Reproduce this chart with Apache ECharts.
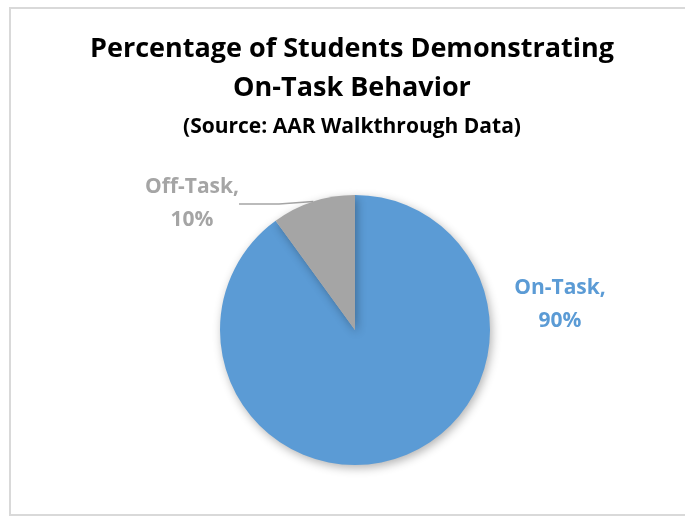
<!DOCTYPE html>
<html>
<head>
<meta charset="utf-8">
<script src="https://cdn.jsdelivr.net/npm/echarts@6/dist/echarts.min.js"></script>
<style>
html,body{margin:0;padding:0;background:#fff;}
#chart{width:685px;height:518px;}
</style>
</head>
<body>
<div id="chart"></div>
<script>
const titleLines = ['Percentage of Students Demonstrating', 'On-Task Behavior'];
const subtitle = '(Source: AAR Walkthrough Data)';
const categories = ['On-Task', 'Off-Task'];
const values = [90, 10];

const sliceColors = ['#5B9BD5', '#A5A5A5'];
const labelPos = [
  {x: 560, y: 305},
  {x: 192, y: 204}
];

const chart = echarts.init(document.getElementById('chart'), null, {renderer: 'canvas'});
const fontFam = '"Open Sans", "Liberation Sans", sans-serif';

chart.setOption({
  animation: false,
  backgroundColor: '#ffffff',
  graphic: [{
    type: 'rect',
    shape: {x: 10, y: 8, width: 720, height: 507},
    style: {fill: 'none', stroke: '#d9d9d9', lineWidth: 2},
    z: -1
  }],
  title: {
    text: titleLines.join('\n'),
    subtext: subtitle,
    left: 352,
    textAlign: 'center',
    top: 30,
    padding: 0,
    itemGap: 6,
    textStyle: {
      fontFamily: fontFam, fontWeight: 'bold', fontSize: 27, lineHeight: 39, color: '#000000'
    },
    subtextStyle: {
      fontFamily: fontFam, fontWeight: 'bold', fontSize: 21, lineHeight: 26, color: '#000000'
    }
  },
  series: [{
    type: 'pie',
    center: [355, 330],
    radius: [0, 135],
    startAngle: 90,
    clockwise: true,
    data: categories.map((c, i) => ({
      name: c,
      value: values[i],
      itemStyle: {color: sliceColors[i]},
      label: {color: sliceColors[i]},
      labelLine: {show: i === 1}
    })),
    itemStyle: {
      borderWidth: 0,
      shadowBlur: 10,
      shadowColor: 'rgba(0,0,0,0.3)',
      shadowOffsetX: 2,
      shadowOffsetY: 3
    },
    label: {
      show: true,
      position: 'outside',
      formatter: '{b},\n{c}%',
      fontFamily: fontFam,
      fontWeight: 'bold',
      fontSize: 21,
      lineHeight: 33,
      align: 'center'
    },
    labelLine: {
      show: true,
      length: 5,
      length2: 40,
      lineStyle: {color: '#A5A5A5', width: 1.5}
    },
    labelLayout: function (p) {
      const pos = labelPos[p.dataIndex];
      return {x: pos.x, y: pos.y, align: 'center', verticalAlign: 'middle'};
    },
    emphasis: {disabled: true}
  }]
});
</script>
</body>
</html>
